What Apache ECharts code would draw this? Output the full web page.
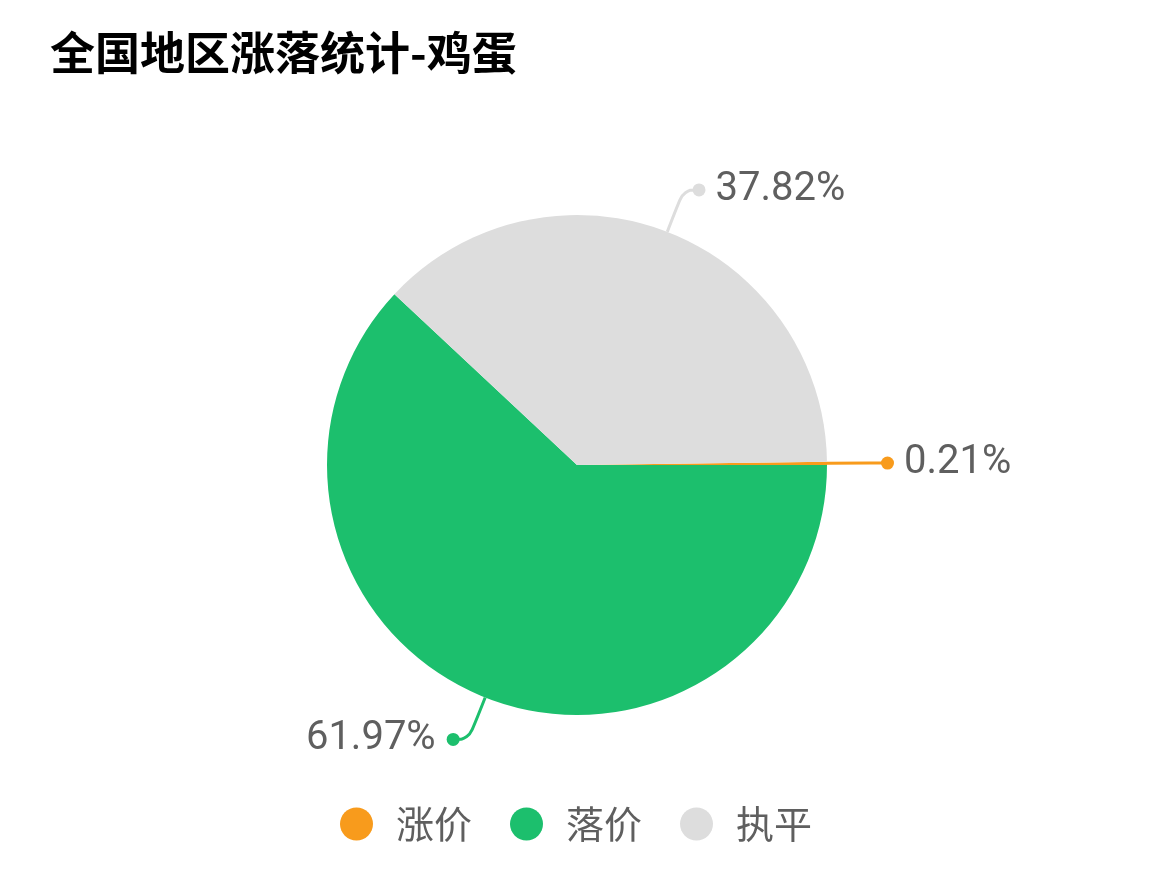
<!DOCTYPE html>
<html>
<head>
<meta charset="utf-8">
<script src="https://cdn.jsdelivr.net/npm/echarts@6/dist/echarts.min.js"></script>
<style>
  html, body { margin: 0; padding: 0; background: #fff; }
  #chart { width: 1152px; height: 872px; }
</style>
</head>
<body>
<div id="chart"></div>
<script>
var categories = ["涨价", "落价", "执平"];
var percents = [0.21, 61.97, 37.82];
var colors = ["#F89B1C", "#1CBF6D", "#DDDDDD"];

var chart = echarts.init(document.getElementById("chart"));

// orange slice starts just above 3 o'clock, rest goes clockwise
var startAngle = percents[0] * 3.6;

// which side each label lands on, so the dot sits next to the line end
var sides = [];
var cum = 0;
percents.forEach(function (p) {
  var mid = (startAngle - (cum + p / 2) * 3.6) * Math.PI / 180;
  sides.push(Math.cos(mid) >= 0 ? "right" : "left");
  cum += p;
});

var rich = {
  val: { fontSize: 40, color: "#5f5f5f", fontFamily: "Roboto, 'Noto Sans CJK SC', sans-serif" }
};
colors.forEach(function (c, i) {
  rich["dot" + i] = { width: 13, height: 13, borderRadius: 6.5, backgroundColor: c };
});
rich.gapR = { width: 10 };
rich.gapL = { width: 11 };

var option = {
  animation: false,
  title: {
    text: "全国地区涨落统计-鸡蛋",
    left: 45,
    top: 25,
    textStyle: {
      fontSize: 45,
      fontWeight: "bold",
      color: "#000",
      fontFamily: "'Noto Sans CJK SC', sans-serif"
    }
  },
  legend: {
    data: categories,
    bottom: 24,
    left: "center",
    icon: "circle",
    itemWidth: 33,
    itemHeight: 33,
    itemGap: 38,
    textStyle: {
      fontSize: 38,
      color: "#5f5f5f",
      padding: [0, 0, 0, 18],
      fontFamily: "'Noto Sans CJK SC', sans-serif"
    }
  },
  series: [
    {
      type: "pie",
      center: [577, 465],
      radius: 250,
      startAngle: startAngle,
      clockwise: true,
      avoidLabelOverlap: false,
      emphasis: { disabled: true },
      data: categories.map(function (name, i) {
        return { name: name, value: percents[i], itemStyle: { color: colors[i] } };
      }),
      label: {
        show: true,
        position: "outside",
        distanceToLabelLine: -6,
        formatter: function (p) {
          var i = p.dataIndex;
          var txt = percents[i].toFixed(2) + "%";
          if (sides[i] === "right") {
            return "{dot" + i + "|}{gapR|}{val|" + txt + "}";
          }
          return "{val|" + txt + "}{gapL|}{dot" + i + "|}";
        },
        rich: rich
      },
      labelLine: {
        show: true,
        length: 45,
        length2: 15,
        smooth: 0.4,
        lineStyle: { width: 3 }
      }
    }
  ]
};

chart.setOption(option);
</script>
</body>
</html>
